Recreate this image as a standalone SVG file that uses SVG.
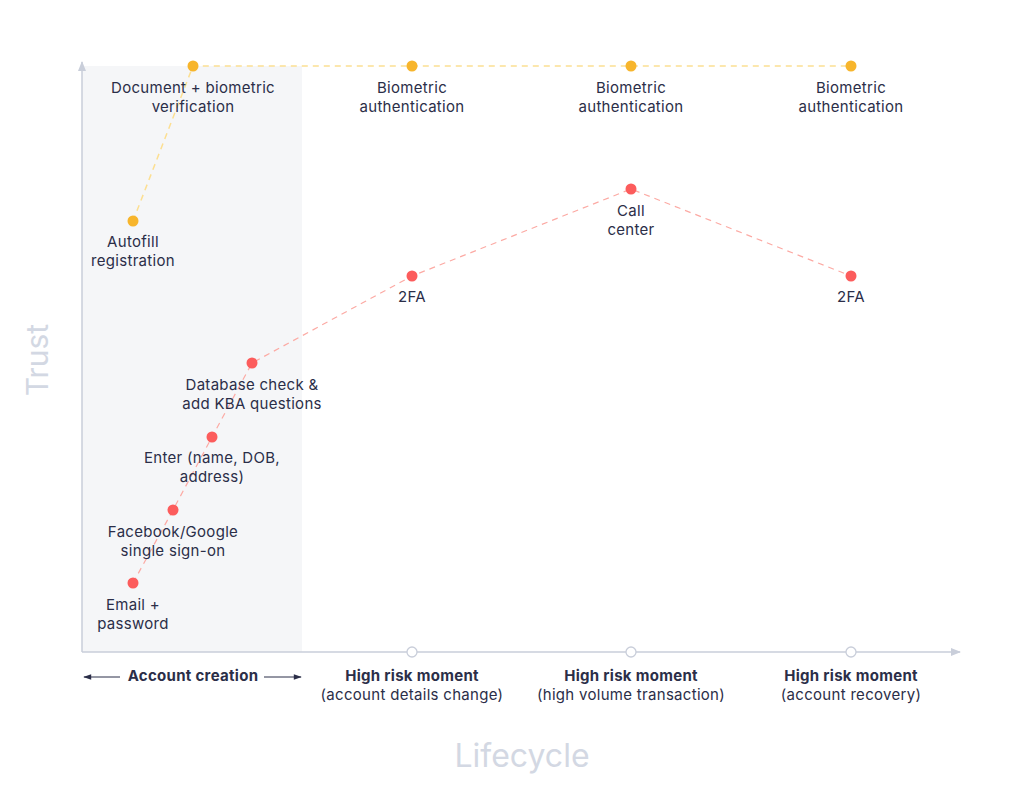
<svg xmlns="http://www.w3.org/2000/svg" width="1024" height="801" viewBox="0 0 1024 801">
<style>
.lbl{font-family:Inter,"Liberation Sans",sans-serif;font-size:15px;letter-spacing:0.3px;fill:#2b2e48;text-anchor:middle}
.b{font-weight:700}
.ax{font-family:Inter,"Liberation Sans",sans-serif;fill:#d3d8e3;text-anchor:middle}
.y{fill:#f7b52c}
.r{fill:#fc5c5c}
.yl{stroke:#fcdf92;stroke-width:1.5;stroke-dasharray:6 5;fill:none}
.rl{stroke:#fcaaa4;stroke-width:1.2;stroke-dasharray:6 5;fill:none}
.tick{fill:#fff;stroke:#c9ceda;stroke-width:1.3}
</style>
<defs>
<marker id="ga" viewBox="0 0 10 10" refX="9" refY="5" markerWidth="10" markerHeight="10" markerUnits="userSpaceOnUse" orient="auto"><path d="M0,1 L10,5 L0,9 z" fill="#c9ceda"/></marker>
<marker id="da" viewBox="0 0 10 10" refX="9" refY="5" markerWidth="10" markerHeight="8" markerUnits="userSpaceOnUse" orient="auto"><path d="M0,1.5 L10,5 L0,8.5 z" fill="#2b2e48"/></marker>
</defs>
<rect width="1024" height="801" fill="#fff"/>
<rect x="82" y="66" width="220" height="586" fill="#f5f6f8"/>
<g id="axes">
<line x1="82" y1="652" x2="82" y2="62" stroke="#c9ceda" stroke-width="1.5" marker-end="url(#ga)"/>
<line x1="82" y1="652" x2="960" y2="652" stroke="#c9ceda" stroke-width="1.5" marker-end="url(#ga)"/>
<circle class="tick" cx="412" cy="652" r="5"/>
<circle class="tick" cx="631" cy="652" r="5"/>
<circle class="tick" cx="851" cy="652" r="5"/>
<text class="ax" x="522" y="767" font-size="32">Lifecycle</text>
<text class="ax" x="0" y="0" font-size="30" transform="translate(48,360) rotate(-90)">Trust</text>
</g>
<g id="connectors">
<polyline class="yl" points="133,221 193,66 851,66"/>
<polyline class="rl" points="133,583 173,510 212,437 252,363 412,276 631,189 851,276"/>
<line x1="120" y1="677" x2="84" y2="677" stroke="#2b2e48" stroke-width="1" marker-end="url(#da)"/>
<line x1="264" y1="677" x2="301" y2="677" stroke="#2b2e48" stroke-width="1" marker-end="url(#da)"/>
</g>
<g id="doc-bio"><circle class="y" cx="193" cy="66" r="5.5"/><text class="lbl" x="193" y="93">Document + biometric</text><text class="lbl" x="193" y="112">verification</text></g>
<g id="bio1"><circle class="y" cx="412" cy="66" r="5.5"/><text class="lbl" x="412" y="93">Biometric</text><text class="lbl" x="412" y="112">authentication</text></g>
<g id="bio2"><circle class="y" cx="631" cy="66" r="5.5"/><text class="lbl" x="631" y="93">Biometric</text><text class="lbl" x="631" y="112">authentication</text></g>
<g id="bio3"><circle class="y" cx="851" cy="66" r="5.5"/><text class="lbl" x="851" y="93">Biometric</text><text class="lbl" x="851" y="112">authentication</text></g>
<g id="autofill"><circle class="y" cx="133" cy="221" r="5.5"/><text class="lbl" x="133" y="247">Autofill</text><text class="lbl" x="133" y="266">registration</text></g>
<g id="callcenter"><circle class="r" cx="631" cy="189" r="5.5"/><text class="lbl" x="631" y="216">Call</text><text class="lbl" x="631" y="235">center</text></g>
<g id="tfa1"><circle class="r" cx="412" cy="276" r="5.5"/><text class="lbl" x="412" y="302">2FA</text></g>
<g id="tfa2"><circle class="r" cx="851" cy="276" r="5.5"/><text class="lbl" x="851" y="302">2FA</text></g>
<g id="dbcheck"><circle class="r" cx="252" cy="363" r="5.5"/><text class="lbl" x="252" y="390">Database check &amp;</text><text class="lbl" x="252" y="409">add KBA questions</text></g>
<g id="enter"><circle class="r" cx="212" cy="437" r="5.5"/><text class="lbl" x="212" y="463">Enter (name, DOB,</text><text class="lbl" x="212" y="482">address)</text></g>
<g id="sso"><circle class="r" cx="173" cy="510" r="5.5"/><text class="lbl" x="173" y="537">Facebook/Google</text><text class="lbl" x="173" y="556">single sign-on</text></g>
<g id="email"><circle class="r" cx="133" cy="583" r="5.5"/><text class="lbl" x="133" y="610">Email +</text><text class="lbl" x="133" y="629">password</text></g>
<g id="acct"><text class="lbl b" x="193" y="681">Account creation</text></g>
<g id="hr1"><text class="lbl b" x="412" y="681">High risk moment</text><text class="lbl" x="412" y="700">(account details change)</text></g>
<g id="hr2"><text class="lbl b" x="631" y="681">High risk moment</text><text class="lbl" x="631" y="700">(high volume transaction)</text></g>
<g id="hr3"><text class="lbl b" x="851" y="681">High risk moment</text><text class="lbl" x="851" y="700">(account recovery)</text></g>
</svg>
